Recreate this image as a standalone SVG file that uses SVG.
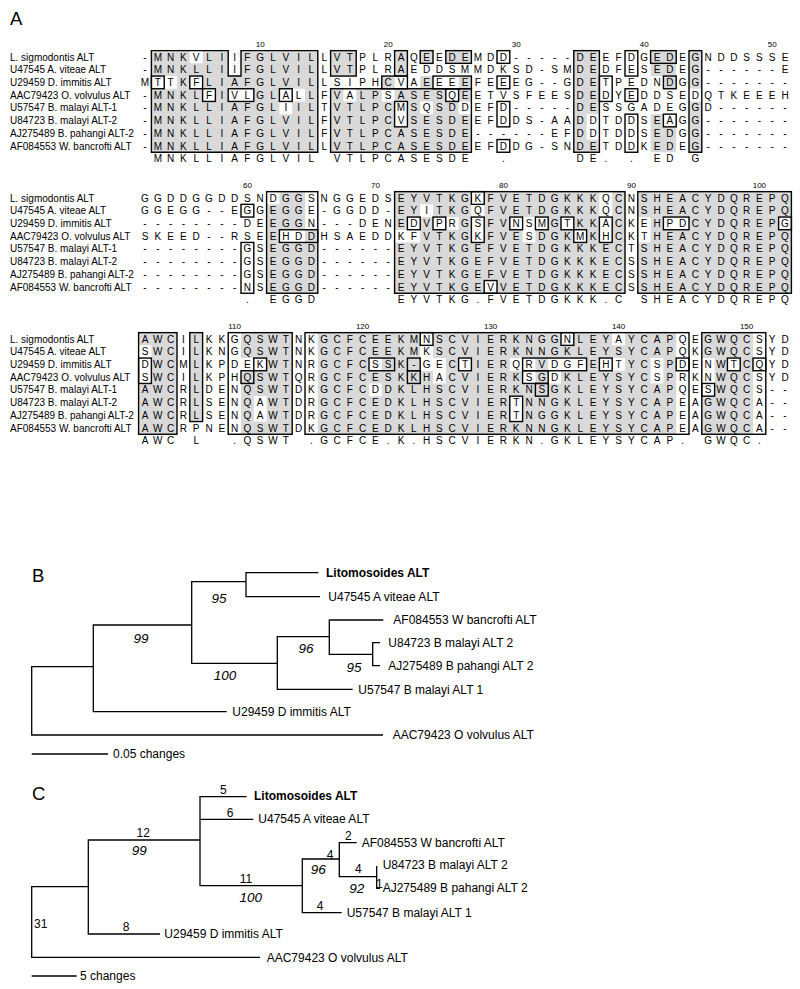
<svg xmlns="http://www.w3.org/2000/svg" width="800" height="989" viewBox="0 0 800 989">
<style>
text{font-family:"Liberation Sans",Arial,sans-serif;fill:#000}
.seq{font-size:10px;text-anchor:middle}
.lab{font-size:10px}
.num{font-size:8px;text-anchor:middle}
.pl{font-size:18.5px}
.sh{fill:#d9d9d9}
.wo{fill:#fff}
.bx{fill:none;stroke:#000;stroke-width:1.4}
.tr{fill:none;stroke:#000;stroke-width:1.3}
.tl{font-size:12px}
.bd{font-weight:bold}
.bs{font-size:13.5px;font-style:italic;text-anchor:middle}
.bl{font-size:12px;text-anchor:middle}
</style>
<rect width="800" height="989" fill="#fff"/>
<text class="pl" x="10" y="25">A</text>

<!-- Block 1 -->
<g id="block1">
<g class="shade">
<rect class="sh" x="151.4" y="50.65" width="166.4" height="101.6"/>
<rect class="sh" x="330.6" y="50.65" width="140.8" height="101.6"/>
<rect class="sh" x="573.8" y="50.65" width="25.6" height="101.6"/>
<rect class="sh" x="650.6" y="50.65" width="25.6" height="101.6"/>
<rect class="sh" x="689" y="50.65" width="12.8" height="101.6"/>
<rect class="wo" x="189.8" y="50.65" width="12.8" height="12.7"/><rect class="wo" x="228.2" y="50.65" width="12.8" height="12.7"/><rect class="wo" x="356.2" y="50.65" width="38.4" height="12.7"/><rect class="wo" x="407.4" y="50.65" width="12.8" height="12.7"/><rect class="wo" x="433" y="50.65" width="12.8" height="12.7"/>
<rect class="wo" x="228.2" y="63.35" width="12.8" height="12.7"/><rect class="wo" x="356.2" y="63.35" width="38.4" height="12.7"/><rect class="wo" x="407.4" y="63.35" width="64" height="12.7"/>
<rect class="wo" x="151.4" y="76.05" width="25.6" height="12.7"/><rect class="wo" x="189.8" y="76.05" width="12.8" height="12.7"/><rect class="wo" x="330.6" y="76.05" width="51.2" height="12.7"/><rect class="wo" x="394.6" y="76.05" width="25.6" height="12.7"/><rect class="wo" x="433" y="76.05" width="25.6" height="12.7"/><rect class="wo" x="650.6" y="76.05" width="12.8" height="12.7"/>
<rect class="wo" x="202.6" y="88.75" width="12.8" height="12.7"/><rect class="wo" x="228.2" y="88.75" width="25.6" height="12.7"/><rect class="wo" x="279.4" y="88.75" width="25.6" height="12.7"/><rect class="wo" x="343.4" y="88.75" width="12.8" height="12.7"/><rect class="wo" x="381.8" y="88.75" width="12.8" height="12.7"/><rect class="wo" x="445.8" y="88.75" width="12.8" height="12.7"/><rect class="wo" x="650.6" y="88.75" width="25.6" height="12.7"/><rect class="wo" x="689" y="88.75" width="12.8" height="12.7"/>
<rect class="wo" x="279.4" y="101.45" width="12.8" height="12.7"/><rect class="wo" x="394.6" y="101.45" width="12.8" height="12.7"/><rect class="wo" x="420.2" y="101.45" width="12.8" height="12.7"/><rect class="wo" x="458.6" y="101.45" width="12.8" height="12.7"/><rect class="wo" x="650.6" y="101.45" width="25.6" height="12.7"/>
<rect class="wo" x="394.6" y="114.15" width="12.8" height="12.7"/><rect class="wo" x="586.6" y="114.15" width="12.8" height="12.7"/><rect class="wo" x="663.4" y="114.15" width="12.8" height="12.7"/>
<rect class="wo" x="586.6" y="126.85" width="12.8" height="12.7"/>
</g>
<g class="boxes">
<polygon class="bx" points="151.4,50.65 228.2,50.65 228.2,76.05 241,76.05 241,50.65 317.8,50.65 317.8,152.25 151.4,152.25"/>
<rect class="bx" x="330.6" y="88.75" width="140.8" height="63.5"/>
<rect class="bx" x="330.6" y="50.65" width="25.6" height="25.4"/>
<rect class="bx" x="394.6" y="50.65" width="12.8" height="25.4"/>
<rect class="bx" x="420.2" y="50.65" width="12.8" height="12.7"/>
<rect class="bx" x="445.8" y="50.65" width="25.6" height="12.7"/>
<rect class="bx" x="497" y="50.65" width="12.8" height="12.7"/>
<rect class="bx" x="573.8" y="50.65" width="25.6" height="101.6"/>
<rect class="bx" x="625" y="50.65" width="12.8" height="25.4"/>
<rect class="bx" x="650.6" y="50.65" width="25.6" height="12.7"/>
<rect class="bx" x="689" y="50.65" width="12.8" height="101.6"/>
<rect class="bx" x="151.4" y="76.05" width="12.8" height="12.7"/>
<rect class="bx" x="189.8" y="76.05" width="12.8" height="12.7"/>
<rect class="bx" x="202.6" y="88.75" width="12.8" height="12.7"/>
<rect class="bx" x="228.2" y="88.75" width="25.6" height="12.7"/>
<rect class="bx" x="279.4" y="88.75" width="12.8" height="12.7"/>
<rect class="bx" x="381.8" y="76.05" width="25.6" height="12.7"/>
<rect class="bx" x="433" y="76.05" width="38.4" height="12.7"/>
<rect class="bx" x="497" y="76.05" width="12.8" height="12.7"/>
<rect class="bx" x="445.8" y="88.75" width="12.8" height="12.7"/>
<rect class="bx" x="394.6" y="101.45" width="12.8" height="25.4"/>
<rect class="bx" x="497" y="101.45" width="12.8" height="25.4"/>
<rect class="bx" x="497" y="139.55" width="12.8" height="12.7"/>
<rect class="bx" x="599.4" y="76.05" width="12.8" height="25.4"/>
<rect class="bx" x="625" y="88.75" width="12.8" height="12.7"/>
<rect class="bx" x="625" y="114.15" width="12.8" height="38.1"/>
<rect class="bx" x="663.4" y="76.05" width="12.8" height="12.7"/>
<rect class="bx" x="663.4" y="114.15" width="12.8" height="12.7"/>
</g>
<g class="nums">
<text class="num" x="260.2" y="47">10</text><text class="num" x="388.2" y="47">20</text><text class="num" x="516.2" y="47">30</text><text class="num" x="644.2" y="47">40</text><text class="num" x="772.2" y="47">50</text>
</g>
<g class="labels">
<text class="lab" x="10" y="60.6">L. sigmodontis ALT</text>
<text class="lab" x="10" y="73.3">U47545 A. viteae ALT</text>
<text class="lab" x="10" y="86">U29459 D. immitis ALT</text>
<text class="lab" x="10" y="98.7">AAC79423 O. volvulus ALT</text>
<text class="lab" x="10" y="111.4">U57547 B. malayi ALT-1</text>
<text class="lab" x="10" y="124.1">U84723 B. malayi ALT-2</text>
<text class="lab" x="10" y="136.8">AJ275489 B. pahangi ALT-2</text>
<text class="lab" x="10" y="149.5">AF084553 W. bancrofti ALT</text>
</g>
<g class="seqs">
<text class="seq" y="60.6" x="145 157.8 170.6 183.4 196.2 209 221.8 234.6 247.4 260.2 273 285.8 298.6 311.4 324.2 337 349.8 362.6 375.4 388.2 401 413.8 426.6 439.4 452.2 465 477.8 490.6 503.4 516.2 529 541.8 554.6 567.4 580.2 593 605.8 618.6 631.4 644.2 657 669.8 682.6 695.4 708.2 721 733.8 746.6 759.4 772.2 785">-MNKVLIIFGLVILLVTPLRAQEEDEMDD-----DEEFDGEDEGNDDSSSE</text>
<text class="seq" y="73.3" x="145 157.8 170.6 183.4 196.2 209 221.8 234.6 247.4 260.2 273 285.8 298.6 311.4 324.2 337 349.8 362.6 375.4 388.2 401 413.8 426.6 439.4 452.2 465 477.8 490.6 503.4 516.2 529 541.8 554.6 567.4 580.2 593 605.8 618.6 631.4 644.2 657 669.8 682.6 695.4 708.2 721 733.8 746.6 759.4 772.2 785">-MNKLLIIFGLVILLVTPLRAEDDSMMDKSD-SMDEDFESEDEG------E</text>
<text class="seq" y="86" x="145 157.8 170.6 183.4 196.2 209 221.8 234.6 247.4 260.2 273 285.8 298.6 311.4 324.2 337 349.8 362.6 375.4 388.2 401 413.8 426.6 439.4 452.2 465 477.8 490.6 503.4 516.2 529 541.8 554.6 567.4 580.2 593 605.8 618.6 631.4 644.2 657 669.8 682.6 695.4 708.2 721 733.8 746.6 759.4 772.2 785">MTTKFLIAFGLVILLSIPHCVAEEEEFEEEG--GDETPEDNDGG-------</text>
<text class="seq" y="98.7" x="145 157.8 170.6 183.4 196.2 209 221.8 234.6 247.4 260.2 273 285.8 298.6 311.4 324.2 337 349.8 362.6 375.4 388.2 401 413.8 426.6 439.4 452.2 465 477.8 490.6 503.4 516.2 529 541.8 554.6 567.4 580.2 593 605.8 618.6 631.4 644.2 657 669.8 682.6 695.4 708.2 721 733.8 746.6 759.4 772.2 785">-MNKLFIVLGLALLFVALPSASESQEETVSFEESDEDYEDDSEDQTKEEEH</text>
<text class="seq" y="111.4" x="145 157.8 170.6 183.4 196.2 209 221.8 234.6 247.4 260.2 273 285.8 298.6 311.4 324.2 337 349.8 362.6 375.4 388.2 401 413.8 426.6 439.4 452.2 465 477.8 490.6 503.4 516.2 529 541.8 554.6 567.4 580.2 593 605.8 618.6 631.4 644.2 657 669.8 682.6 695.4 708.2 721 733.8 746.6 759.4 772.2 785">-MNKLLIAFGLIILTVTLPCMSQSDDEFD-----DESSGADEGGD------</text>
<text class="seq" y="124.1" x="145 157.8 170.6 183.4 196.2 209 221.8 234.6 247.4 260.2 273 285.8 298.6 311.4 324.2 337 349.8 362.6 375.4 388.2 401 413.8 426.6 439.4 452.2 465 477.8 490.6 503.4 516.2 529 541.8 554.6 567.4 580.2 593 605.8 618.6 631.4 644.2 657 669.8 682.6 695.4 708.2 721 733.8 746.6 759.4 772.2 785">-MNKLLIAFGLVILFVTLPCVSESDEEFDDS-AADDTDDSEAGG-------</text>
<text class="seq" y="136.8" x="145 157.8 170.6 183.4 196.2 209 221.8 234.6 247.4 260.2 273 285.8 298.6 311.4 324.2 337 349.8 362.6 375.4 388.2 401 413.8 426.6 439.4 452.2 465 477.8 490.6 503.4 516.2 529 541.8 554.6 567.4 580.2 593 605.8 618.6 631.4 644.2 657 669.8 682.6 695.4 708.2 721 733.8 746.6 759.4 772.2 785">-MNKLLIAFGLVILFVTLPCASESDE------EFDDTDDSEDGG-------</text>
<text class="seq" y="149.5" x="145 157.8 170.6 183.4 196.2 209 221.8 234.6 247.4 260.2 273 285.8 298.6 311.4 324.2 337 349.8 362.6 375.4 388.2 401 413.8 426.6 439.4 452.2 465 477.8 490.6 503.4 516.2 529 541.8 554.6 567.4 580.2 593 605.8 618.6 631.4 644.2 657 669.8 682.6 695.4 708.2 721 733.8 746.6 759.4 772.2 785">-MNKLLIAFGLVILLVTLPCASESDEEFDDG-SNDETDDKEDEG-------</text>
<text class="seq" y="162.2" x="157.8 170.6 183.4 196.2 209 221.8 234.6 247.4 260.2 273 285.8 298.6 311.4 337 349.8 362.6 375.4 388.2 401 413.8 426.6 439.4 452.2 465 503.4 580.2 593 605.8 631.4 657 669.8 695.4">MNKLLIAFGLVILVTLPCASESDE.DE..EDG</text>
</g>
</g>

<!-- Block 2 -->
<g id="block2" transform="translate(0,141)">
<g class="shade">
<rect class="sh" x="266.6" y="50.65" width="51.2" height="101.6"/>
<rect class="sh" x="394.6" y="50.65" width="230.4" height="101.6"/>
<rect class="sh" x="637.8" y="50.65" width="153.6" height="101.6"/>
<rect class="wo" x="266.6" y="50.65" width="12.8" height="12.7"/><rect class="wo" x="305" y="50.65" width="12.8" height="12.7"/><rect class="wo" x="471.4" y="50.65" width="12.8" height="12.7"/><rect class="wo" x="599.4" y="50.65" width="12.8" height="12.7"/>
<rect class="wo" x="305" y="63.35" width="12.8" height="12.7"/><rect class="wo" x="420.2" y="63.35" width="12.8" height="12.7"/><rect class="wo" x="471.4" y="63.35" width="12.8" height="12.7"/><rect class="wo" x="599.4" y="63.35" width="12.8" height="12.7"/>
<rect class="wo" x="305" y="76.05" width="12.8" height="12.7"/><rect class="wo" x="407.4" y="76.05" width="12.8" height="12.7"/><rect class="wo" x="433" y="76.05" width="25.6" height="12.7"/><rect class="wo" x="471.4" y="76.05" width="12.8" height="12.7"/><rect class="wo" x="509.8" y="76.05" width="38.4" height="12.7"/><rect class="wo" x="561" y="76.05" width="12.8" height="12.7"/><rect class="wo" x="599.4" y="76.05" width="12.8" height="12.7"/><rect class="wo" x="637.8" y="76.05" width="12.8" height="12.7"/><rect class="wo" x="663.4" y="76.05" width="25.6" height="12.7"/><rect class="wo" x="778.6" y="76.05" width="12.8" height="12.7"/>
<rect class="wo" x="279.4" y="88.75" width="25.6" height="12.7"/><rect class="wo" x="394.6" y="88.75" width="25.6" height="12.7"/><rect class="wo" x="471.4" y="88.75" width="12.8" height="12.7"/><rect class="wo" x="522.6" y="88.75" width="12.8" height="12.7"/><rect class="wo" x="573.8" y="88.75" width="12.8" height="12.7"/><rect class="wo" x="599.4" y="88.75" width="12.8" height="12.7"/><rect class="wo" x="637.8" y="88.75" width="12.8" height="12.7"/>
<rect class="wo" x="484.2" y="139.55" width="12.8" height="12.7"/>
</g>
<g class="boxes">
<rect class="bx" x="241" y="63.35" width="12.8" height="12.7"/>
<rect class="bx" x="241" y="101.45" width="12.8" height="50.8"/>
<rect class="bx" x="266.6" y="50.65" width="51.2" height="101.6"/>
<rect class="bx" x="279.4" y="88.75" width="38.4" height="12.7"/>
<rect class="bx" x="394.6" y="50.65" width="230.4" height="101.6"/>
<rect class="bx" x="637.8" y="50.65" width="153.6" height="101.6"/>
<rect class="bx" x="471.4" y="50.65" width="12.8" height="12.7"/>
<rect class="bx" x="407.4" y="76.05" width="12.8" height="12.7"/>
<rect class="bx" x="433" y="76.05" width="12.8" height="12.7"/>
<rect class="bx" x="471.4" y="76.05" width="12.8" height="25.4"/>
<rect class="bx" x="509.8" y="76.05" width="12.8" height="12.7"/>
<rect class="bx" x="535.4" y="76.05" width="12.8" height="12.7"/>
<rect class="bx" x="561" y="76.05" width="12.8" height="12.7"/>
<rect class="bx" x="599.4" y="76.05" width="12.8" height="25.4"/>
<rect class="bx" x="573.8" y="88.75" width="12.8" height="12.7"/>
<rect class="bx" x="663.4" y="76.05" width="25.6" height="12.7"/>
<rect class="bx" x="778.6" y="76.05" width="12.8" height="12.7"/>
<rect class="bx" x="484.2" y="139.55" width="12.8" height="12.7"/>
</g>
<g class="nums">
<text class="num" x="247.4" y="47">60</text><text class="num" x="375.4" y="47">70</text><text class="num" x="503.4" y="47">80</text><text class="num" x="631.4" y="47">90</text><text class="num" x="759.4" y="47">100</text>
</g>
<g class="labels">
<text class="lab" x="10" y="60.6">L. sigmodontis ALT</text>
<text class="lab" x="10" y="73.3">U47545 A. viteae ALT</text>
<text class="lab" x="10" y="86">U29459 D. immitis ALT</text>
<text class="lab" x="10" y="98.7">AAC79423 O. volvulus ALT</text>
<text class="lab" x="10" y="111.4">U57547 B. malayi ALT-1</text>
<text class="lab" x="10" y="124.1">U84723 B. malayi ALT-2</text>
<text class="lab" x="10" y="136.8">AJ275489 B. pahangi ALT-2</text>
<text class="lab" x="10" y="149.5">AF084553 W. bancrofti ALT</text>
</g>
<g class="seqs">
<text class="seq" y="60.6" x="145 157.8 170.6 183.4 196.2 209 221.8 234.6 247.4 260.2 273 285.8 298.6 311.4 324.2 337 349.8 362.6 375.4 388.2 401 413.8 426.6 439.4 452.2 465 477.8 490.6 503.4 516.2 529 541.8 554.6 567.4 580.2 593 605.8 618.6 631.4 644.2 657 669.8 682.6 695.4 708.2 721 733.8 746.6 759.4 772.2 785">GGDDGGDDSNDGGSNGGEDSEYVTKGKFVETDGKKKQCNSHEACYDQREPQ</text>
<text class="seq" y="73.3" x="145 157.8 170.6 183.4 196.2 209 221.8 234.6 247.4 260.2 273 285.8 298.6 311.4 324.2 337 349.8 362.6 375.4 388.2 401 413.8 426.6 439.4 452.2 465 477.8 490.6 503.4 516.2 529 541.8 554.6 567.4 580.2 593 605.8 618.6 631.4 644.2 657 669.8 682.6 695.4 708.2 721 733.8 746.6 759.4 772.2 785">GGEGG--EGGEGGE-GGDD-EYITKGQFVETDGKKKQCNSHEACYDQREPQ</text>
<text class="seq" y="86" x="145 157.8 170.6 183.4 196.2 209 221.8 234.6 247.4 260.2 273 285.8 298.6 311.4 324.2 337 349.8 362.6 375.4 388.2 401 413.8 426.6 439.4 452.2 465 477.8 490.6 503.4 516.2 529 541.8 554.6 567.4 580.2 593 605.8 618.6 631.4 644.2 657 669.8 682.6 695.4 708.2 721 733.8 746.6 759.4 772.2 785">--------DEEGGN---DENEDVPRGSFVNSMGTKKACKEHPDCYDQREPG</text>
<text class="seq" y="98.7" x="145 157.8 170.6 183.4 196.2 209 221.8 234.6 247.4 260.2 273 285.8 298.6 311.4 324.2 337 349.8 362.6 375.4 388.2 401 413.8 426.6 439.4 452.2 465 477.8 490.6 503.4 516.2 529 541.8 554.6 567.4 580.2 593 605.8 618.6 631.4 644.2 657 669.8 682.6 695.4 708.2 721 733.8 746.6 759.4 772.2 785">SKEED--RSEEHDDHSAEDDKFVTKGKFVESDGKMKHCKTHEACYDQREPQ</text>
<text class="seq" y="111.4" x="145 157.8 170.6 183.4 196.2 209 221.8 234.6 247.4 260.2 273 285.8 298.6 311.4 324.2 337 349.8 362.6 375.4 388.2 401 413.8 426.6 439.4 452.2 465 477.8 490.6 503.4 516.2 529 541.8 554.6 567.4 580.2 593 605.8 618.6 631.4 644.2 657 669.8 682.6 695.4 708.2 721 733.8 746.6 759.4 772.2 785">--------GSEGGD------EYVTKGEFVETDGKKKECTSHEACYDQREPQ</text>
<text class="seq" y="124.1" x="145 157.8 170.6 183.4 196.2 209 221.8 234.6 247.4 260.2 273 285.8 298.6 311.4 324.2 337 349.8 362.6 375.4 388.2 401 413.8 426.6 439.4 452.2 465 477.8 490.6 503.4 516.2 529 541.8 554.6 567.4 580.2 593 605.8 618.6 631.4 644.2 657 669.8 682.6 695.4 708.2 721 733.8 746.6 759.4 772.2 785">--------GSEGGD------EYVTKGEFVETDGKKKECSSHEACYDQREPQ</text>
<text class="seq" y="136.8" x="145 157.8 170.6 183.4 196.2 209 221.8 234.6 247.4 260.2 273 285.8 298.6 311.4 324.2 337 349.8 362.6 375.4 388.2 401 413.8 426.6 439.4 452.2 465 477.8 490.6 503.4 516.2 529 541.8 554.6 567.4 580.2 593 605.8 618.6 631.4 644.2 657 669.8 682.6 695.4 708.2 721 733.8 746.6 759.4 772.2 785">--------GSEGGD------EYVTKGEFVETDGKKKECSSHEACYDQREPQ</text>
<text class="seq" y="149.5" x="145 157.8 170.6 183.4 196.2 209 221.8 234.6 247.4 260.2 273 285.8 298.6 311.4 324.2 337 349.8 362.6 375.4 388.2 401 413.8 426.6 439.4 452.2 465 477.8 490.6 503.4 516.2 529 541.8 554.6 567.4 580.2 593 605.8 618.6 631.4 644.2 657 669.8 682.6 695.4 708.2 721 733.8 746.6 759.4 772.2 785">--------NSEGGD------EYVTKGEVVETDGKKKECSSHEACYDQREPQ</text>
<text class="seq" y="162.2" x="247.4 273 285.8 298.6 311.4 401 413.8 426.6 439.4 452.2 465 477.8 490.6 503.4 516.2 529 541.8 554.6 567.4 580.2 593 605.8 618.6 644.2 657 669.8 682.6 695.4 708.2 721 733.8 746.6 759.4 772.2 785">.EGGDEYVTKG.FVETDGKKK.CSHEACYDQREPQ</text>
</g>
</g>

<!-- Block 3 -->
<g id="block3" transform="translate(0,282)">
<g class="shade">
<rect class="sh" x="138.6" y="50.65" width="38.4" height="101.6"/>
<rect class="sh" x="189.8" y="50.65" width="12.8" height="101.6"/>
<rect class="sh" x="241" y="50.65" width="51.2" height="101.6"/>
<rect class="sh" x="317.8" y="50.65" width="358.4" height="101.6"/>
<rect class="sh" x="701.8" y="50.65" width="51.2" height="101.6"/>
<rect class="wo" x="420.2" y="50.65" width="12.8" height="12.7"/><rect class="wo" x="561" y="50.65" width="12.8" height="12.7"/><rect class="wo" x="612.2" y="50.65" width="12.8" height="12.7"/>
<rect class="wo" x="138.6" y="63.35" width="12.8" height="12.7"/><rect class="wo" x="420.2" y="63.35" width="12.8" height="12.7"/>
<rect class="wo" x="138.6" y="76.05" width="12.8" height="12.7"/><rect class="wo" x="241" y="76.05" width="25.6" height="12.7"/><rect class="wo" x="369" y="76.05" width="12.8" height="12.7"/><rect class="wo" x="420.2" y="76.05" width="25.6" height="12.7"/><rect class="wo" x="458.6" y="76.05" width="12.8" height="12.7"/><rect class="wo" x="509.8" y="76.05" width="25.6" height="12.7"/><rect class="wo" x="548.2" y="76.05" width="38.4" height="12.7"/><rect class="wo" x="599.4" y="76.05" width="25.6" height="12.7"/><rect class="wo" x="650.6" y="76.05" width="12.8" height="12.7"/><rect class="wo" x="701.8" y="76.05" width="12.8" height="12.7"/><rect class="wo" x="727.4" y="76.05" width="12.8" height="12.7"/>
<rect class="wo" x="138.6" y="88.75" width="12.8" height="12.7"/><rect class="wo" x="433" y="88.75" width="12.8" height="12.7"/><rect class="wo" x="522.6" y="88.75" width="12.8" height="12.7"/><rect class="wo" x="548.2" y="88.75" width="12.8" height="12.7"/><rect class="wo" x="650.6" y="88.75" width="12.8" height="12.7"/><rect class="wo" x="701.8" y="88.75" width="12.8" height="12.7"/>
<rect class="wo" x="369" y="101.45" width="12.8" height="12.7"/><rect class="wo" x="701.8" y="101.45" width="12.8" height="12.7"/>
<rect class="wo" x="253.8" y="114.15" width="12.8" height="25.4"/><rect class="wo" x="509.8" y="114.15" width="12.8" height="25.4"/>
<rect class="wo" x="189.8" y="139.55" width="12.8" height="12.7"/>
</g>
<g class="boxes">
<rect class="bx" x="138.6" y="50.65" width="38.4" height="101.6"/>
<rect class="bx" x="189.8" y="50.65" width="12.8" height="88.9"/>
<rect class="bx" x="228.2" y="50.65" width="64" height="101.6"/>
<rect class="bx" x="305" y="50.65" width="384" height="101.6"/>
<rect class="bx" x="701.8" y="50.65" width="64" height="101.6"/>
<rect class="bx" x="138.6" y="76.05" width="12.8" height="25.4"/>
<rect class="bx" x="253.8" y="76.05" width="12.8" height="12.7"/>
<rect class="bx" x="369" y="76.05" width="25.6" height="12.7"/>
<rect class="bx" x="407.4" y="76.05" width="12.8" height="12.7"/>
<rect class="bx" x="458.6" y="76.05" width="12.8" height="12.7"/>
<rect class="bx" x="522.6" y="76.05" width="64" height="12.7"/>
<rect class="bx" x="599.4" y="76.05" width="12.8" height="12.7"/>
<rect class="bx" x="676.2" y="76.05" width="12.8" height="12.7"/>
<rect class="bx" x="727.4" y="76.05" width="12.8" height="12.7"/>
<rect class="bx" x="753" y="76.05" width="12.8" height="12.7"/>
<rect class="bx" x="241" y="88.75" width="12.8" height="12.7"/>
<rect class="bx" x="407.4" y="88.75" width="12.8" height="12.7"/>
<rect class="bx" x="522.6" y="88.75" width="25.6" height="12.7"/>
<rect class="bx" x="535.4" y="101.45" width="12.8" height="12.7"/>
<rect class="bx" x="701.8" y="101.45" width="12.8" height="12.7"/>
<rect class="bx" x="509.8" y="114.15" width="12.8" height="25.4"/>
<rect class="bx" x="420.2" y="50.65" width="12.8" height="12.7"/>
<rect class="bx" x="561" y="50.65" width="12.8" height="12.7"/>
</g>
<g class="nums">
<text class="num" x="234.6" y="47">110</text><text class="num" x="362.6" y="47">120</text><text class="num" x="490.6" y="47">130</text><text class="num" x="618.6" y="47">140</text><text class="num" x="746.6" y="47">150</text>
</g>
<g class="labels">
<text class="lab" x="10" y="60.6">L. sigmodontis ALT</text>
<text class="lab" x="10" y="73.3">U47545 A. viteae ALT</text>
<text class="lab" x="10" y="86">U29459 D. immitis ALT</text>
<text class="lab" x="10" y="98.7">AAC79423 O. volvulus ALT</text>
<text class="lab" x="10" y="111.4">U57547 B. malayi ALT-1</text>
<text class="lab" x="10" y="124.1">U84723 B. malayi ALT-2</text>
<text class="lab" x="10" y="136.8">AJ275489 B. pahangi ALT-2</text>
<text class="lab" x="10" y="149.5">AF084553 W. bancrofti ALT</text>
</g>
<g class="seqs">
<text class="seq" y="60.6" x="145 157.8 170.6 183.4 196.2 209 221.8 234.6 247.4 260.2 273 285.8 298.6 311.4 324.2 337 349.8 362.6 375.4 388.2 401 413.8 426.6 439.4 452.2 465 477.8 490.6 503.4 516.2 529 541.8 554.6 567.4 580.2 593 605.8 618.6 631.4 644.2 657 669.8 682.6 695.4 708.2 721 733.8 746.6 759.4 772.2 785">AWCILKKGQSWTNKGCFCEEKMNSCVIERKNGGNLEYAYCAPQEGWQCSYD</text>
<text class="seq" y="73.3" x="145 157.8 170.6 183.4 196.2 209 221.8 234.6 247.4 260.2 273 285.8 298.6 311.4 324.2 337 349.8 362.6 375.4 388.2 401 413.8 426.6 439.4 452.2 465 477.8 490.6 503.4 516.2 529 541.8 554.6 567.4 580.2 593 605.8 618.6 631.4 644.2 657 669.8 682.6 695.4 708.2 721 733.8 746.6 759.4 772.2 785">SWCILKNGQSWTNKGCFCEEKMKSCVIERKNNGKLEYSYCAPQKGWQCSYD</text>
<text class="seq" y="86" x="145 157.8 170.6 183.4 196.2 209 221.8 234.6 247.4 260.2 273 285.8 298.6 311.4 324.2 337 349.8 362.6 375.4 388.2 401 413.8 426.6 439.4 452.2 465 477.8 490.6 503.4 516.2 529 541.8 554.6 567.4 580.2 593 605.8 618.6 631.4 644.2 657 669.8 682.6 695.4 708.2 721 733.8 746.6 759.4 772.2 785">DWCMLKPDEKWTNRGCFCSSK-GECTIERQRVDGFEHTYCSPDENWTCQYD</text>
<text class="seq" y="98.7" x="145 157.8 170.6 183.4 196.2 209 221.8 234.6 247.4 260.2 273 285.8 298.6 311.4 324.2 337 349.8 362.6 375.4 388.2 401 413.8 426.6 439.4 452.2 465 477.8 490.6 503.4 516.2 529 541.8 554.6 567.4 580.2 593 605.8 618.6 631.4 644.2 657 669.8 682.6 695.4 708.2 721 733.8 746.6 759.4 772.2 785">SWCILKPHQSWTQRGCFCESKKHACVIERKSGDKLEYSYCSPRKNWQCSYD</text>
<text class="seq" y="111.4" x="145 157.8 170.6 183.4 196.2 209 221.8 234.6 247.4 260.2 273 285.8 298.6 311.4 324.2 337 349.8 362.6 375.4 388.2 401 413.8 426.6 439.4 452.2 465 477.8 490.6 503.4 516.2 529 541.8 554.6 567.4 580.2 593 605.8 618.6 631.4 644.2 657 669.8 682.6 695.4 708.2 721 733.8 746.6 759.4 772.2 785">AWCRLDENQSWTDKGCFCDDKLHSCVIERKNSGKLEYSYCAPQESWQCS--</text>
<text class="seq" y="124.1" x="145 157.8 170.6 183.4 196.2 209 221.8 234.6 247.4 260.2 273 285.8 298.6 311.4 324.2 337 349.8 362.6 375.4 388.2 401 413.8 426.6 439.4 452.2 465 477.8 490.6 503.4 516.2 529 541.8 554.6 567.4 580.2 593 605.8 618.6 631.4 644.2 657 669.8 682.6 695.4 708.2 721 733.8 746.6 759.4 772.2 785">AWCRLSENQAWTDRGCFCEDKLHSCVIERTNNGKLEYSYCAPEAGWQCA--</text>
<text class="seq" y="136.8" x="145 157.8 170.6 183.4 196.2 209 221.8 234.6 247.4 260.2 273 285.8 298.6 311.4 324.2 337 349.8 362.6 375.4 388.2 401 413.8 426.6 439.4 452.2 465 477.8 490.6 503.4 516.2 529 541.8 554.6 567.4 580.2 593 605.8 618.6 631.4 644.2 657 669.8 682.6 695.4 708.2 721 733.8 746.6 759.4 772.2 785">AWCRLSENQAWTDRGCFCEDKLHSCVIERTNGGKLEYSYCAPEAGWQCA--</text>
<text class="seq" y="149.5" x="145 157.8 170.6 183.4 196.2 209 221.8 234.6 247.4 260.2 273 285.8 298.6 311.4 324.2 337 349.8 362.6 375.4 388.2 401 413.8 426.6 439.4 452.2 465 477.8 490.6 503.4 516.2 529 541.8 554.6 567.4 580.2 593 605.8 618.6 631.4 644.2 657 669.8 682.6 695.4 708.2 721 733.8 746.6 759.4 772.2 785">AWCRPNENQSWTDKGCFCEDKLHSCVIERKNNGKLEYSYCAPEAGWQCA--</text>
<text class="seq" y="162.2" x="145 157.8 170.6 196.2 234.6 247.4 260.2 273 285.8 311.4 324.2 337 349.8 362.6 375.4 388.2 401 413.8 426.6 439.4 452.2 465 477.8 490.6 503.4 516.2 529 541.8 554.6 567.4 580.2 593 605.8 618.6 631.4 644.2 657 669.8 682.6 708.2 721 733.8 746.6 759.4">AWCL.QSWT.GCFCE.K.HSCVIERKN.GKLEYSYCAP.GWQC.</text>
</g>
</g>

<!-- Tree B -->
<text class="pl" x="32" y="582">B</text>
<g id="treeB-connectors">
<path class="tr" d="M383,735 H31.7 V666.7 H93.3"/>
<path class="tr" d="M226.7,711.7 H93.3 V625 H191.7"/>
<path class="tr" d="M246,581.7 H191.7 V663.3 H277.3"/>
<path class="tr" d="M318.3,572.7 H246 V596.7 H320"/>
<path class="tr" d="M329.3,636.7 H277.3 V689.3 H352.7"/>
<path class="tr" d="M383.3,620 H329.3 V654.3 H372.7"/>
<path class="tr" d="M380,642.7 H372.7 V665.7 H380"/>
<path class="tr" d="M31.7,754 H108"/>
</g>
<g id="treeB-leaves">
<text class="tl bd" x="326" y="577">Litomosoides ALT</text>
<text class="tl" x="328.3" y="601">U47545 A viteae ALT</text>
<text class="tl" x="393.3" y="624.3">AF084553 W bancrofti ALT</text>
<text class="tl" x="388.3" y="647">U84723 B malayi ALT 2</text>
<text class="tl" x="388.3" y="670">AJ275489 B pahangi ALT 2</text>
<text class="tl" x="358.3" y="693.5">U57547 B malayi ALT 1</text>
<text class="tl" x="232.3" y="716">U29459 D immitis ALT</text>
<text class="tl" x="392.7" y="739.3">AAC79423 O volvulus ALT</text>
<text class="tl" x="113" y="758">0.05 changes</text>
</g>
<g id="treeB-support">
<text class="bs" x="219" y="602.5">95</text>
<text class="bs" x="141" y="642.5">99</text>
<text class="bs" x="225" y="680">100</text>
<text class="bs" x="306" y="653">96</text>
<text class="bs" x="354" y="671.5">95</text>
</g>

<!-- Tree C -->
<text class="pl" x="32" y="800">C</text>
<g id="treeC-connectors">
<path class="tr" d="M260,957.3 H31.7 V886.7 H88.3"/>
<path class="tr" d="M160,934 H88.3 V840 H200"/>
<path class="tr" d="M246.7,796.7 H200 V885.7 H302.3"/>
<path class="tr" d="M200,819.3 H253.3"/>
<path class="tr" d="M339.3,859 H302.3 V912.7 H341.7"/>
<path class="tr" d="M356.7,842.7 H339.3 V876.7 H376.7"/>
<path class="tr" d="M376.7,866 V888.3 H380"/>
<path class="tr" d="M31.7,976 H76.7"/>
</g>
<g id="treeC-leaves">
<text class="tl bd" x="254" y="799.5">Litomosoides ALT</text>
<text class="tl" x="258.3" y="822.5">U47545 A viteae ALT</text>
<text class="tl" x="361.7" y="846.5">AF084553 W bancrofti ALT</text>
<text class="tl" x="382.7" y="868.5">U84723 B malayi ALT 2</text>
<text class="tl" x="382.7" y="891.5">AJ275489 B pahangi ALT 2</text>
<text class="tl" x="346.7" y="916.5">U57547 B malayi ALT 1</text>
<text class="tl" x="164.3" y="937.5">U29459 D immitis ALT</text>
<text class="tl" x="266.7" y="961.5">AAC79423 O volvulus ALT</text>
<text class="tl" x="80" y="980">5 changes</text>
</g>
<g id="treeC-lengths">
<text class="bl" x="223.3" y="793.6">5</text>
<text class="bl" x="230" y="817.3">6</text>
<text class="bl" x="143.3" y="837">12</text>
<text class="bl" x="348.3" y="840.3">2</text>
<text class="bl" x="330" y="859.3">4</text>
<text class="bl" x="358.3" y="873.3">4</text>
<text class="bl" x="379.3" y="887.6">1</text>
<text class="bl" x="246" y="882.6">11</text>
<text class="bl" x="320" y="910.3">4</text>
<text class="bl" x="126" y="931">8</text>
<text class="tl" x="34" y="927.6">31</text>
</g>
<g id="treeC-support">
<text class="bs" x="139.3" y="855">99</text>
<text class="bs" x="318.3" y="874.3">96</text>
<text class="bs" x="356.7" y="893.3">92</text>
<text class="bs" x="250.7" y="901.7">100</text>
</g>
</svg>
